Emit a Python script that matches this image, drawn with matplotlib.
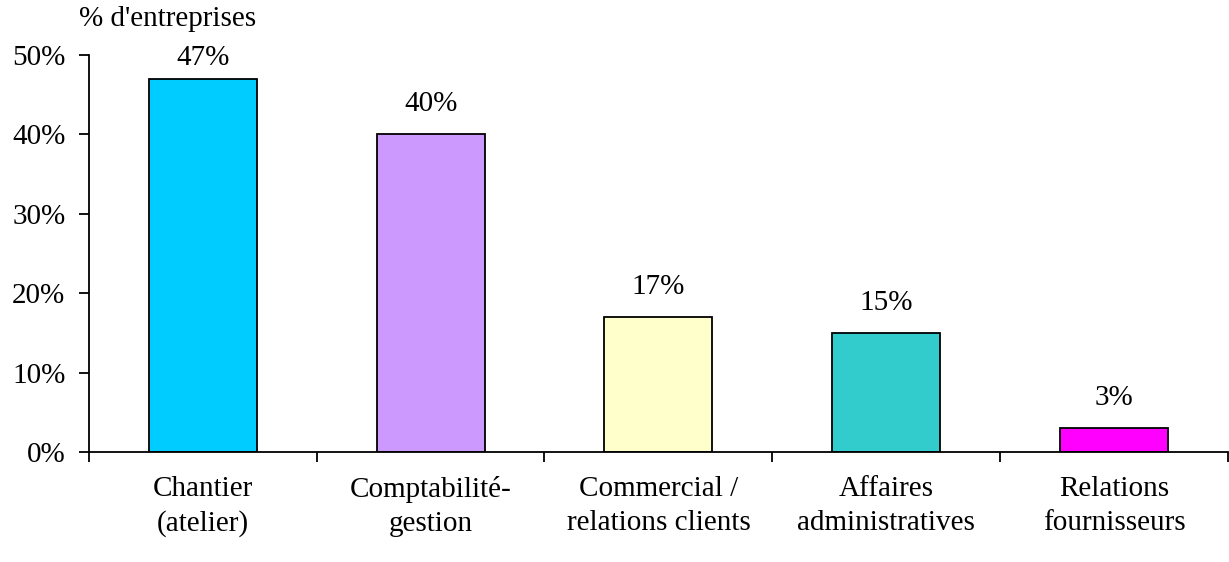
import matplotlib
matplotlib.use("Agg")
import matplotlib.pyplot as plt
from matplotlib.ticker import FixedLocator, PercentFormatter

categories = ["Chantier\n(atelier)", "Comptabilité-\ngestion", "Commercial /\nrelations clients",
              "Affaires\nadministratives", "Relations\nfournisseurs"]
values = [47, 40, 17, 15, 3]
colors = ["#00CCFF", "#CC99FF", "#FFFFCC", "#33CCCC", "#FF00FF"]
yticks = [0, 10, 20, 30, 40, 50]

plt.rcParams['font.family'] = ['Liberation Serif', 'DejaVu Serif']
fs = 21

fig = plt.figure(figsize=(12.29, 5.62), dpi=100)
ax = fig.add_axes([0.0724, 0.1957, 0.9266, 0.7063])

ymax = 50
x = list(range(len(values)))
bars = ax.bar(x, values, width=0.475, color=colors, edgecolor="black", linewidth=1.3)
for xi, v in zip(x, values):
    ax.text(xi, min(v + 3.8, ymax - 0.4), f"{v}%", ha="center", va="center", fontsize=fs)

ax.set_xlim(-0.5, len(values) - 0.5)
ax.set_ylim(0, ymax)
ax.set_yticks(yticks)
ax.yaxis.set_major_formatter(PercentFormatter(decimals=0))
ax.tick_params(axis="y", direction="out", length=7, width=1.3, labelsize=fs, pad=10)

ax.xaxis.set_major_locator(FixedLocator([i - 0.5 for i in range(len(values) + 1)]))
ax.xaxis.set_major_formatter(plt.NullFormatter())
ax.tick_params(axis="x", which="major", direction="out", length=7, width=1.3)
ax.set_xticks(x, minor=True)
ax.set_xticklabels(categories, minor=True, fontsize=fs, linespacing=1.4)
ax.tick_params(axis="x", which="minor", length=0, pad=17)

for s in ["top", "right"]:
    ax.spines[s].set_visible(False)
for s in ["left", "bottom"]:
    ax.spines[s].set_linewidth(1.3)

fig.text(168 / 1229, 1 - 19 / 562, "% d'entreprises", ha="center", va="center", fontsize=fs)

fig.savefig("out.png", dpi=100)
